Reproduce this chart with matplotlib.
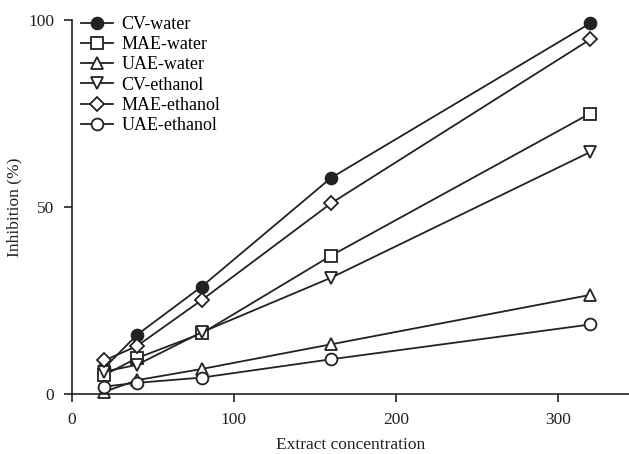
import numpy as np
import matplotlib.pyplot as plt

plt.rcParams['font.family'] = ['Liberation Serif', 'DejaVu Serif']

# dados
conc = [20, 40, 80, 160, 320]
cv_water = [7.0, 15.8, 28.7, 57.8, 99.1]
mae_water = [5.1, 9.6, 16.2, 37.0, 75.0]
uae_water = [0.6, 3.7, 6.7, 13.3, 26.5]
cv_ethanol = [6.0, 7.8, 16.5, 31.1, 64.7]
mae_ethanol = [9.0, 12.8, 25.1, 51.0, 94.8]
uae_ethanol = [2.0, 3.0, 4.4, 9.3, 18.6]

series = [
    ("CV-water", cv_water, "o", True),
    ("MAE-water", mae_water, "s", False),
    ("UAE-water", uae_water, "^", False),
    ("CV-ethanol", cv_ethanol, "v", False),
    ("MAE-ethanol", mae_ethanol, "D", False),
    ("UAE-ethanol", uae_ethanol, "o", False),
]

fig = plt.figure(figsize=(6.29, 4.54), dpi=100)
ax = fig.add_axes([0.1145, 0.132, 0.8855, 0.824])

cor = "#222222"
for nome, vals, mk, cheio in series:
    ms = 7 if mk == "D" else 8.5
    ax.plot(conc, vals, marker=mk, color=cor, lw=1.3, ms=ms,
            mfc=cor if cheio else "white", mec=cor, mew=1.3, label=nome,
            clip_on=False)

ax.set_xlim(0, 344)
ax.set_ylim(0, 100)
ax.set_xticks([0, 100, 200, 300])
ax.set_yticks([0, 50, 100])
ax.spines['top'].set_visible(False)
ax.spines['right'].set_visible(False)
for s in ['left', 'bottom']:
    ax.spines[s].set_color(cor)
    ax.spines[s].set_linewidth(1.2)
ax.tick_params(direction='out', length=6, width=1.2, colors=cor, labelsize=12.5, pad=7)
ax.set_xlabel("Extract concentration", fontsize=12.5, color=cor, labelpad=6.5)
ax.set_ylabel("Inhibition (%)", fontsize=12.5, color=cor, labelpad=4)

leg = ax.legend(loc='upper left', bbox_to_anchor=(0.0, 1.035), frameon=False,
                fontsize=13, handlelength=1.75, labelspacing=0.18, borderaxespad=0.1,
                handletextpad=0.5)

fig.savefig("out.png", dpi=100)
